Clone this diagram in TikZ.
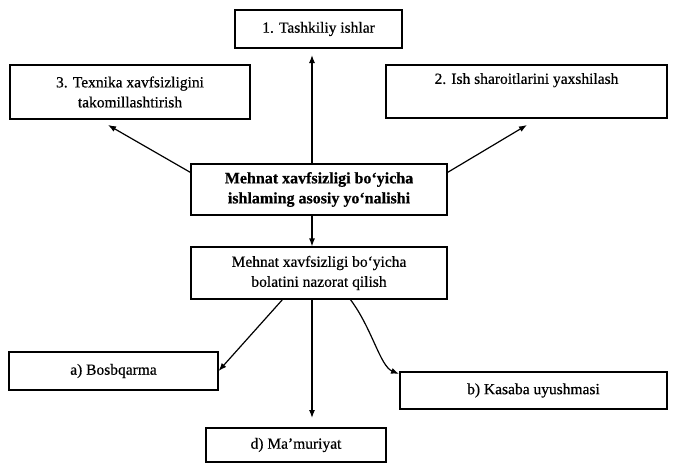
\documentclass[tikz,border=0pt]{standalone}
\usepackage{fontspec}
\setmainfont{Liberation Serif}[FakeBold=0.5]
\usetikzlibrary{arrows.meta}
\begin{document}
\begin{tikzpicture}[x=1pt,y=-1pt,
  box/.style={draw=black, line width=1.2pt, rectangle, inner sep=0pt,
    align=center, font=\fontsize{15.5}{20}\selectfont},
  bbox/.style={box, font=\fontsize{16}{20}\selectfont\bfseries},
  arr/.style={draw=black, line width=1.2pt, -{Latex[length=8pt,width=6pt]}}]
\useasboundingbox (0,0) rectangle (677,463);

% top row
\node[box, minimum width=167pt, minimum height=38pt] (t1) at (318.5,29) {1. Tashkiliy ishlar};
\node[box, minimum width=240pt, minimum height=54pt] (t3) at (130,92)
  {3. Texnika xavfsizligini\\takomillashtirish};
\node[box, minimum width=281pt, minimum height=53pt] (t2) at (526.5,91.5)
  {2. Ish sharoitlarini yaxshilash\\[0pt]\strut};

% central boxes
\node[bbox, minimum width=256pt, minimum height=51pt] (main) at (319,189.5)
  {Mehnat xavfsizligi bo‘yicha\\ishlaming asosiy yo‘nalishi};
\node[box, minimum width=256pt, minimum height=52pt] (ctrl) at (319,273)
  {Mehnat xavfsizligi bo‘yicha\\bolatini nazorat qilish};

% bottom row
\node[box, minimum width=209pt, minimum height=38pt] (ba) at (113.5,371) {a) Bosbqarma};
\node[box, minimum width=267pt, minimum height=37pt] (bb) at (533.5,390.5) {b) Kasaba uyushmasi};
\node[box, minimum width=180pt, minimum height=34pt] (bd) at (296,445) {d) Ma’muriyat};

% arrow end points
\coordinate (up) at (312,55);
\coordinate (in3) at (108,125);
\coordinate (in2) at (527,125);
\coordinate (outa) at (283,299);
\coordinate (outb) at (350,299);
\coordinate (ind) at (312,418);
\coordinate (inb) at (399,374);

% connectors
\draw[arr] (main.north -| up) -- (up);
\draw[arr] ([yshift=-9pt]main.north west) -- (in3);
\draw[arr] ([yshift=-9pt]main.north east) -- (in2);
\draw[arr] (main.south -| up) -- (ctrl.north -| up);
\draw[arr] (outa) -- (ba.east);
\draw[arr] (ctrl.south -| ind) -- (ind);
\draw[arr] (outb) .. controls (372,328) and (380,366) .. (inb);
\end{tikzpicture}
\end{document}
